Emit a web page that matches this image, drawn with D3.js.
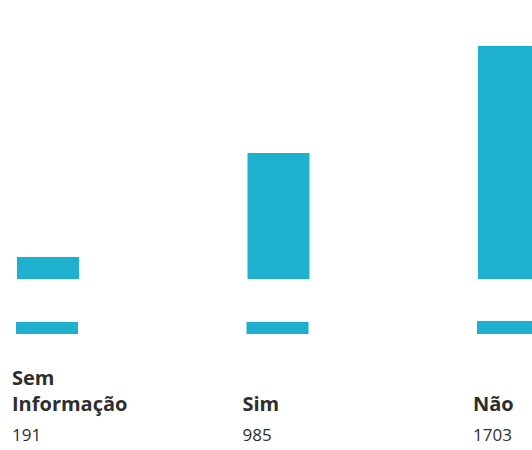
<!DOCTYPE html>
<html>
<head>
<meta charset="utf-8">
<script src="https://cdn.jsdelivr.net/npm/d3@7"></script>
<style>
  html, body { margin: 0; padding: 0; background: #ffffff; }
  svg { display: block; }
</style>
</head>
<body>
<svg id="chart" width="532" height="450"></svg>
<script>
// Data
const categories = ["Sem Informação", "Sim", "Não"];
const labelLines = [["Sem", "Informação"], ["Sim"], ["Não"]];
const totals = [191, 985, 1703];
const upperValues = [161, 921, 1703];   // large bar
const lowerValues = [88, 88, 95];       // small bar underneath (estimated)

const svg = d3.select("#chart");
const barColor = "#1fb0cf";
const textColor = "#2e2e2e";

const x = d3.scaleBand()
  .domain(categories)
  .range([17, 540])
  .paddingInner(0.731)
  .paddingOuter(0);

// upper bars: baseline 279
const yUpper = d3.scaleLinear().domain([0, 1703]).range([279, 46]);
// lower bars: baseline 334
const yLower = d3.scaleLinear().domain([0, 1703]).range([334, 101]);

svg.append("g").selectAll("rect")
  .data(categories)
  .join("rect")
  .attr("x", d => x(d))
  .attr("width", x.bandwidth())
  .attr("y", (d, i) => yUpper(upperValues[i]))
  .attr("height", (d, i) => yUpper(0) - yUpper(upperValues[i]))
  .attr("fill", barColor);

svg.append("g").selectAll("rect")
  .data(categories)
  .join("rect")
  .attr("x", d => x(d) - 1)
  .attr("width", x.bandwidth())
  .attr("y", (d, i) => yLower(lowerValues[i]))
  .attr("height", (d, i) => yLower(0) - yLower(lowerValues[i]))
  .attr("fill", barColor);

// category labels
const lab = svg.append("g").selectAll("text")
  .data(categories)
  .join("text")
  .attr("y", 411)
  .attr("fill", textColor)
  .attr("font-family", "'Open Sans', sans-serif")
  .attr("font-weight", "bold")
  .attr("font-size", 20);
lab.each(function(d, i) {
  const lines = labelLines[i];
  const t = d3.select(this);
  lines.forEach((ln, j) => {
    t.append("tspan")
      .attr("x", x(d) - 5)
      .attr("dy", j === 0 ? -(lines.length - 1) * 26 : 26)
      .text(ln);
  });
});

// totals
svg.append("g").selectAll("text")
  .data(categories)
  .join("text")
  .attr("x", d => x(d) - 5)
  .attr("y", 441)
  .attr("fill", textColor)
  .attr("font-family", "'Open Sans', sans-serif")
  .attr("font-size", 17)
  .text((d, i) => totals[i]);
</script>
</body>
</html>
